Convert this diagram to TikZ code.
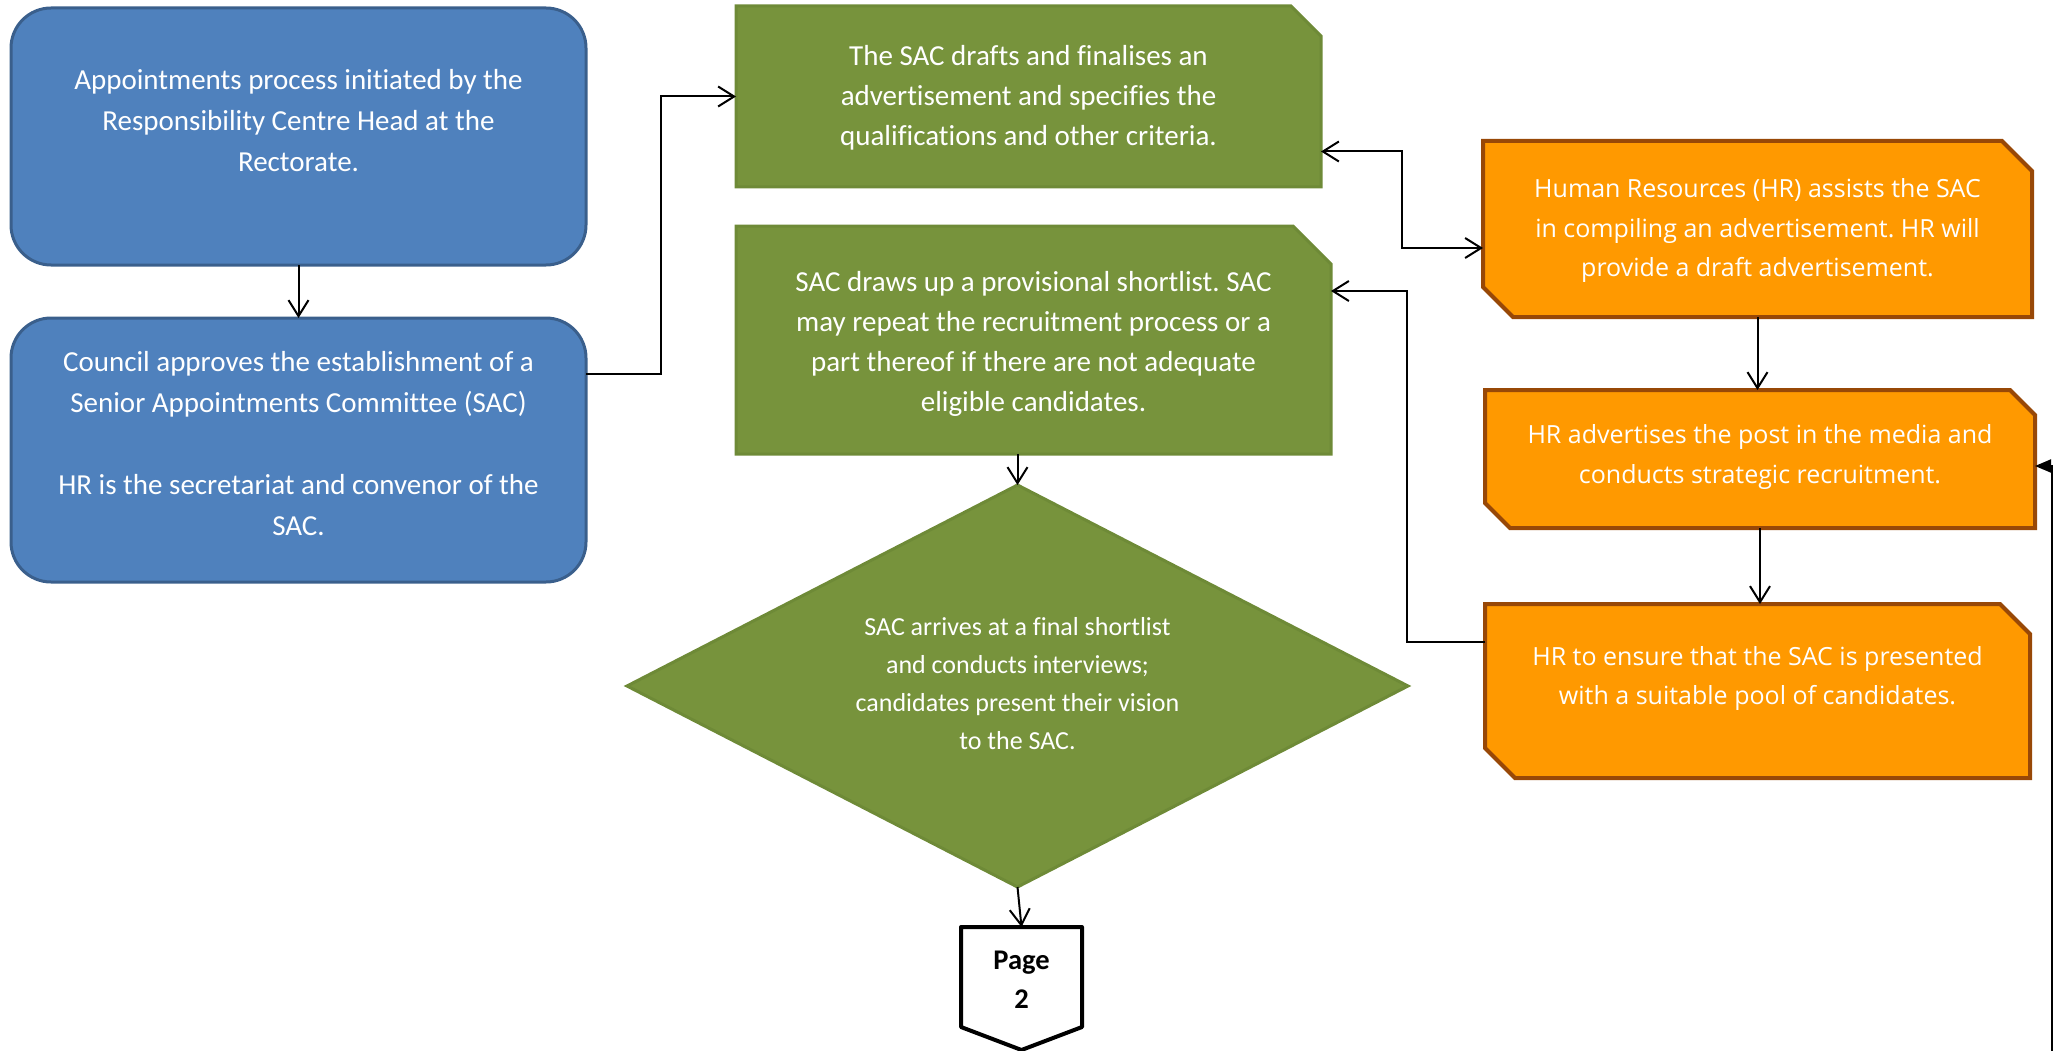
\documentclass[tikz,border=0pt]{standalone}
\usepackage{fontspec}
\setmainfont[Ligatures=NoCommon]{Carlito}
\newfontfamily\osans{Open Sans}
\usetikzlibrary{arrows.meta}
\definecolor{bluefill}{HTML}{4F81BD}
\definecolor{blueline}{HTML}{3A5F8C}
\definecolor{greenfill}{HTML}{77933C}
\definecolor{greenline}{HTML}{6E8A37}
\definecolor{orangefill}{HTML}{FF9900}
\definecolor{orangeline}{HTML}{984807}
\frenchspacing
\begin{document}
\begin{tikzpicture}[x=1pt,y=-1pt,
  frame/.style={rectangle, inner sep=0pt, outer sep=0pt, draw=none},
  bluebox/.style={rectangle, rounded corners=40pt, fill=bluefill, draw=blueline, line width=3pt, inner sep=0pt, outer sep=0pt},
  greenshape/.style={fill=greenfill, draw=greenline, line width=3pt},
  orangeshape/.style={fill=orangefill, draw=orangeline, line width=4pt},
  pageshape/.style={fill=white, draw=black, line width=4pt, line join=round},
  btxt/.style={text=white, align=center, inner sep=0pt, font=\frenchspacing\fontsize{29}{41}\selectfont},
  gtxt/.style={text=white, align=center, inner sep=0pt, font=\frenchspacing\fontsize{29}{40}\selectfont},
  dtxt/.style={text=white, align=center, inner sep=0pt, font=\frenchspacing\fontsize{26}{38}\selectfont},
  otxt/.style={text=white, align=center, inner sep=0pt, font=\frenchspacing\osans\fontsize{25}{39.5}\selectfont},
  ptxt/.style={text=black, align=center, inner sep=0pt, font=\bfseries\fontsize{28.5}{39}\selectfont},
  arr/.style={draw=black, line width=2pt, -{Straight Barb[length=16pt,width=20pt]}},
  arrboth/.style={draw=black, line width=2pt, {Straight Barb[length=16pt,width=20pt]}-{Straight Barb[length=16pt,width=20pt]}},
  arrfill/.style={draw=black, line width=2pt, -{Triangle[length=16pt,width=13pt]}},
]
\useasboundingbox (0,0) rectangle (2060,1051);

% blue boxes
\node[bluebox, minimum width=575pt, minimum height=257pt] (b1) at (298.5,136.5) {};
\node[btxt] (b1t) at (298.5,120.5) {Appointments process initiated by the\\Responsibility Centre Head at the\\Rectorate.};
\node[bluebox, minimum width=575pt, minimum height=264pt] (b2) at (298.5,450) {};
\node[btxt] (b2t) at (298.5,443.5) {Council approves the establishment of a\\Senior Appointments Committee (SAC)\\[41pt]HR is the secretariat and convenor of the\\SAC.};

% green boxes
\node[frame, minimum width=585pt, minimum height=181pt] (g1) at (1028.5,96.5) {};
\path[greenshape] (g1.north west) -- ([xshift=-30pt]g1.north east) -- ([yshift=-30pt]g1.north east) -- (g1.south east) -- (g1.south west) -- cycle;
\node[gtxt] (g1t) at (1028.5,98) {The SAC drafts and finalises an\\advertisement and specifies the\\qualifications and other criteria.};

\node[frame, minimum width=595pt, minimum height=228pt] (g2) at (1033.5,340) {};
\path[greenshape] (g2.north west) -- ([xshift=-38pt]g2.north east) -- ([yshift=-38pt]g2.north east) -- (g2.south east) -- (g2.south west) -- cycle;
\node[gtxt] (g2t) at (1033.5,344) {SAC draws up a provisional shortlist. SAC\\may repeat the recruitment process or a\\part thereof if there are not adequate\\eligible candidates.};

% diamond
\node[frame, minimum width=781pt, minimum height=402pt] (dia) at (1017.5,686) {};
\path[greenshape] (dia.north) -- (dia.east) -- (dia.south) -- (dia.west) -- cycle;
\node[dtxt] (diat) at (1017.5,684) {SAC arrives at a final shortlist\\and conducts interviews;\\candidates present their vision\\to the SAC.};

% page connector
\node[frame, minimum width=121pt, minimum height=123pt] (pg) at (1021.5,988.5) {};
\path[pageshape] (pg.north west) -- (pg.north east) -- ([yshift=23pt]pg.south east) -- (pg.south) -- ([yshift=23pt]pg.south west) -- cycle;
\node[ptxt] (pgt) at (1021.5,979.5) {Page\\2};

% orange boxes
\node[frame, minimum width=549pt, minimum height=176pt] (o1) at (1757.5,229) {};
\path[orangeshape] (o1.north west) -- ([xshift=-30pt]o1.north east) -- ([yshift=-30pt]o1.north east) -- (o1.south east) -- ([xshift=30pt]o1.south west) -- ([yshift=30pt]o1.south west) -- cycle;
\node[otxt] (o1t) at (1757.5,231) {Human Resources (HR) assists the SAC\\in compiling an advertisement. HR will\\provide a draft advertisement.};

\node[frame, minimum width=550pt, minimum height=138pt] (o2) at (1760,459) {};
\path[orangeshape] (o2.north west) -- ([xshift=-25pt]o2.north east) -- ([yshift=-25pt]o2.north east) -- (o2.south east) -- ([xshift=25pt]o2.south west) -- ([yshift=25pt]o2.south west) -- cycle;
\node[otxt] (o2t) at (1760,457) {HR advertises the post in the media and\\conducts strategic recruitment.};

\node[frame, minimum width=545pt, minimum height=174pt] (o3) at (1757.5,691) {};
\path[orangeshape] (o3.north west) -- ([xshift=-30pt]o3.north east) -- ([yshift=-30pt]o3.north east) -- (o3.south east) -- ([xshift=30pt]o3.south west) -- ([yshift=30pt]o3.south west) -- cycle;
\node[otxt] (o3t) at (1757.5,678.5) {HR to ensure that the SAC is presented\\with a suitable pool of candidates.};

% connectors
\draw[arr] (b1.south) -- (b2.north);
\draw[arr] ([yshift=76pt]b2.east) -- ++(75,0) |- (g1.west);
\draw[arrboth] ([yshift=-55pt]g1.east) -- ++(81,0) |- ([yshift=-19pt]o1.west);
\draw[arr] ([yshift=49pt]o3.west) -- ++(-78,0) |- ([yshift=49pt]g2.east);
\draw[arr] (o1.south) -- (o1.south |- o2.north);
\draw[arr] (o2.south) -- (o2.south |- o3.north);
\draw[arr] (dia.north |- g2.south) -- (dia.north);
\draw[arr] (dia.south) -- (pg.north);
\coordinate (rb) at (2052,1051);
\draw[arrfill] (rb) |- ([yshift=-7pt]o2.east);
\end{tikzpicture}
\end{document}
